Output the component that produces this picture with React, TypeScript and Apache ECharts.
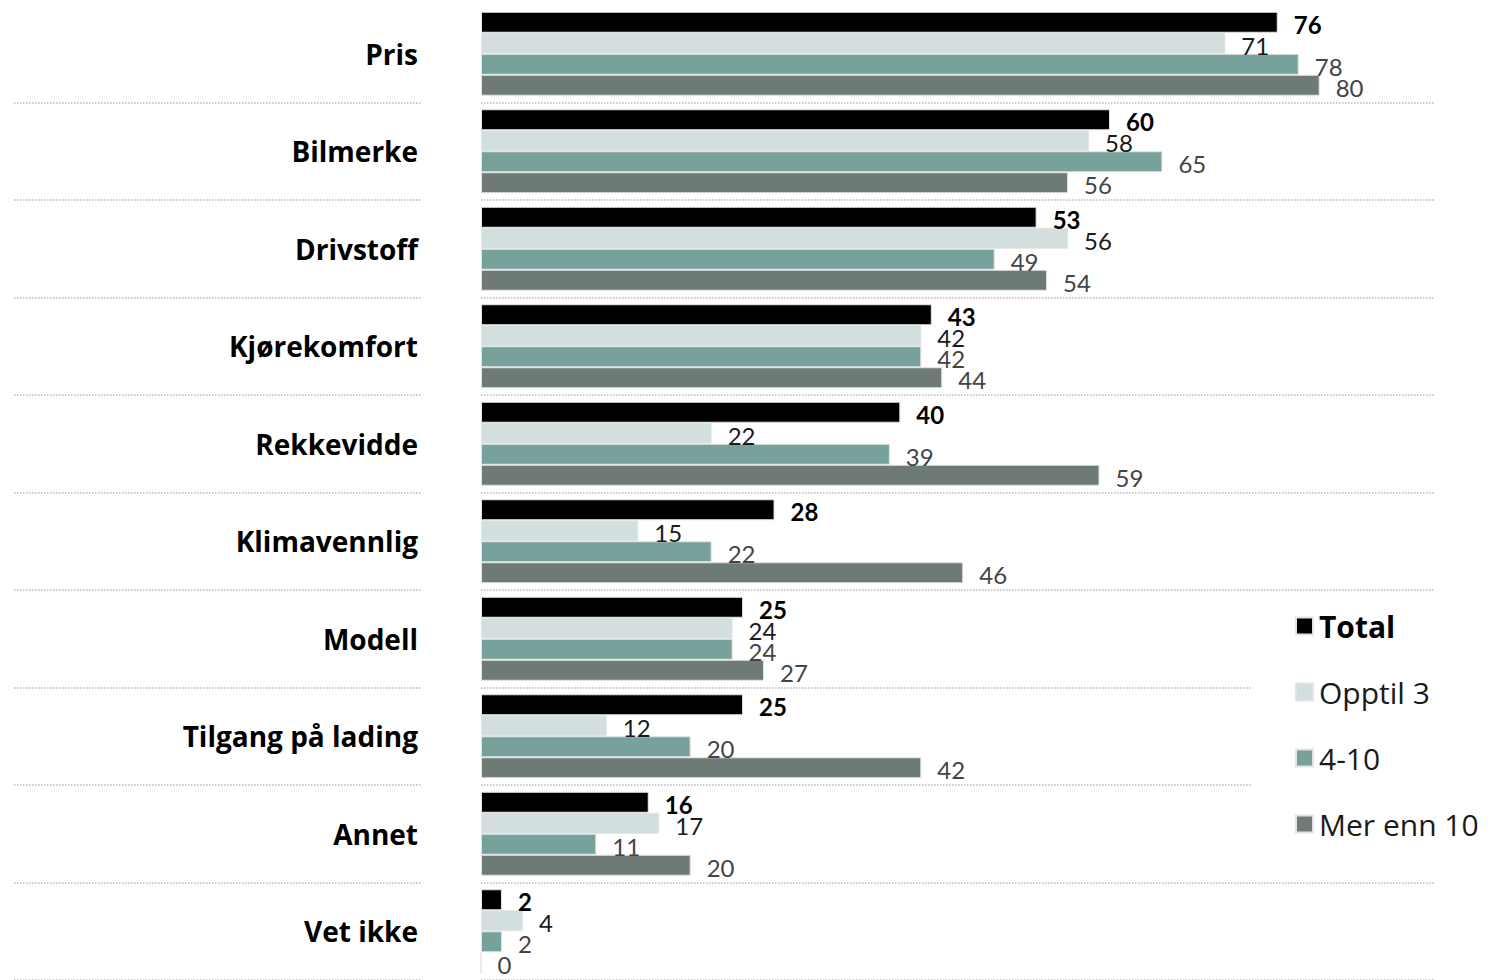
import React, { useEffect, useRef } from "react";
import * as echarts from "echarts";

const categories = [
  "Pris",
  "Bilmerke",
  "Drivstoff",
  "Kjørekomfort",
  "Rekkevidde",
  "Klimavennlig",
  "Modell",
  "Tilgang på lading",
  "Annet",
  "Vet ikke",
];
const seriesNames = ["Total", "Opptil 3", "4-10", "Mer enn 10"];
const totalValues = [76, 60, 53, 43, 40, 28, 25, 25, 16, 2];
const opptil3Values = [71, 58, 56, 42, 22, 15, 24, 12, 17, 4];
const mid410Values = [78, 65, 49, 42, 39, 22, 24, 20, 11, 2];
const merEnn10Values = [80, 56, 54, 44, 59, 46, 27, 42, 20, 0];

const colors = ["#000000", "#d3dfdf", "#77a19b", "#6d7a75"];
const labelColors = ["#000000", "#1a1a1a", "#444444", "#444444"];
const FONT = "Lato, 'Open Sans', sans-serif";
const WIDE_FONT = "'Open Sans', Lato, sans-serif";

export default function App() {
  const ref = useRef<HTMLDivElement>(null);
  useEffect(() => {
    if (!ref.current) return;
    const chart = echarts.init(ref.current, undefined, { renderer: "svg" });
    const valuesList = [totalValues, opptil3Values, mid410Values, merEnn10Values];
    const splitLineStyle = { type: "dotted" as const, color: "#b8b8b8", width: 1.5 };
    chart.setOption({
      animation: false,
      textStyle: { fontFamily: FONT },
      grid: [
        { left: 481, right: 64, top: 5, height: 978, containLabel: false },
        { left: 14, width: 407, top: 5, height: 978, containLabel: false },
      ],
      xAxis: [
        { type: "value", gridIndex: 0, min: 0, max: 91, show: false },
        { type: "value", gridIndex: 1, min: 0, max: 1, show: false },
      ],
      yAxis: [
        {
          type: "category",
          gridIndex: 0,
          data: categories,
          inverse: true,
          axisLine: { show: false },
          axisTick: { show: false },
          axisLabel: {
            margin: 63,
            fontSize: 28,
            fontWeight: "bold",
            color: "#000",
            fontFamily: WIDE_FONT,
            padding: [10, 0, 0, 0],
          },
          splitLine: { show: true, showMinLine: false, lineStyle: splitLineStyle },
        },
        {
          type: "category",
          gridIndex: 1,
          data: categories,
          inverse: true,
          axisLine: { show: false },
          axisTick: { show: false },
          axisLabel: { show: false },
          splitLine: { show: true, showMinLine: false, lineStyle: splitLineStyle },
        },
      ],
      legend: {
        orient: "vertical",
        left: 1252,
        top: 598,
        padding: [13, 6, 13, 43],
        backgroundColor: "#ffffff",
        itemWidth: 17,
        itemHeight: 17,
        itemGap: 36,
        icon: "rect",
        textStyle: {
          fontSize: 30,
          lineHeight: 30,
          color: "#1a1a1a",
          fontFamily: WIDE_FONT,
          padding: [0, 0, 0, 1],
        },
        data: seriesNames.map((n, i) => ({
          name: n,
          textStyle: i === 0 ? { fontWeight: "bold", color: "#000" } : {},
        })),
      },
      series: seriesNames.map((name, i) => ({
        name,
        type: "bar",
        xAxisIndex: 0,
        yAxisIndex: 0,
        data: valuesList[i],
        barWidth: 21,
        barGap: "0%",
        itemStyle: { color: colors[i], borderColor: "#e4e4e4", borderWidth: 1 },
        label: {
          show: true,
          position: "right",
          distance: 16,
          offset: [0, 2],
          fontSize: 24,
          fontFamily: FONT,
          fontWeight: i === 0 ? "bold" : "normal",
          color: labelColors[i],
        },
      })),
    });
    return () => chart.dispose();
  }, []);
  return (
    <div
      ref={ref}
      style={{ position: "absolute", left: 0, top: 0, width: 1499, height: 980, background: "#fff" }}
    />
  );
}
